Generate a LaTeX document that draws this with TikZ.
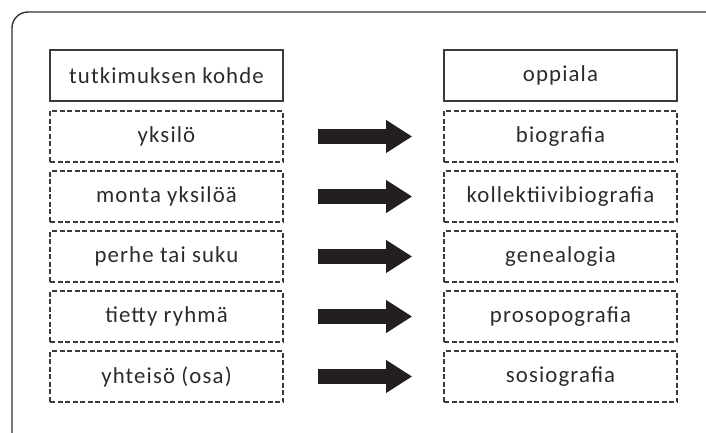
\documentclass[tikz,border=0pt]{standalone}
\usepackage{fontspec}
\setmainfont[LetterSpace=5]{Carlito}
\usetikzlibrary{arrows.meta}
\definecolor{framec}{HTML}{333333}
\definecolor{boxc}{HTML}{3A3A3A}
\definecolor{txtc}{HTML}{2B2B2B}
\definecolor{arrc}{HTML}{231F20}
\tikzset{
  basebox/.style={draw=boxc, line width=1.6pt, minimum width=233pt, minimum height=51pt, inner sep=0pt, text=txtc, font=\fontsize{22.8pt}{27pt}\selectfont, anchor=center},
  headbox/.style={basebox},
  dashbox/.style={basebox, dash pattern=on 5pt off 2.5pt},
  bigarrow/.style={draw=arrc, line width=15pt, -{Triangle[length=26pt,width=31pt]}, shorten <=34pt, shorten >=31pt},
}
\begin{document}
\begin{tikzpicture}[x=1pt,y=-1pt]
\useasboundingbox (0,0) rectangle (706,433);
\begin{scope}
\clip (0,0) rectangle (706,433);
\draw[framec, line width=1.4pt, rounded corners=16pt] (12,12) rectangle (722,452);
\end{scope}
\node[headbox] (l0) at (166.5,75.5) {tutkimuksen kohde};
\node[headbox] (r0) at (560.5,75.5) {oppiala};
\node[dashbox] (l1) at (166.5,136.5) {yksilö};
\node[dashbox] (l2) at (166.5,196.5) {monta yksilöä};
\node[dashbox] (l3) at (166.5,256.5) {perhe tai suku};
\node[dashbox] (l4) at (166.5,316.5) {tietty ryhmä};
\node[dashbox] (l5) at (166.5,376.5) {yhteisö (osa)};
\node[dashbox] (r1) at (560.5,136.5) {biografia};
\node[dashbox] (r2) at (560.5,196.5) {kollektiivibiografia};
\node[dashbox] (r3) at (560.5,256.5) {genealogia};
\node[dashbox] (r4) at (560.5,316.5) {prosopografia};
\node[dashbox] (r5) at (560.5,376.5) {sosiografia};
\foreach \i in {1,...,5}{
  \draw[bigarrow] (l\i) -- (r\i);
}
\end{tikzpicture}
\end{document}
